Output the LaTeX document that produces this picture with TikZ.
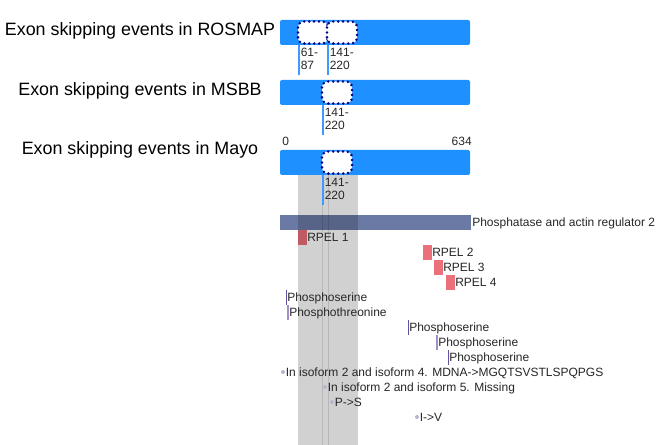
\documentclass[tikz,border=0pt]{standalone}
\usepackage{fontspec}
\setmainfont{Liberation Sans}
\definecolor{barblue}{HTML}{1E90FF}
\definecolor{lineblue}{HTML}{3D9BFF}
\definecolor{skipnavy}{HTML}{000080}
\definecolor{protgray}{HTML}{6B79A5}
\definecolor{rpelred}{HTML}{EB707A}
\definecolor{ptmdark}{HTML}{6650A0}
\definecolor{ptmlight}{HTML}{A38FC9}
\definecolor{vardot}{HTML}{B3B8CA}
\begin{document}
\begin{tikzpicture}[x=0.75pt,y=-0.75pt, every node/.style={font=\fontsize{9}{10}\selectfont, inner sep=0pt, text=black!85},
    lab/.style={anchor=base west},
    title/.style={anchor=base, font=\fontsize{13.4}{16}\selectfont, text=black},
    exonbar/.style={fill=barblue, rounded corners=1.5pt},
    skipbox/.style={draw=skipnavy, fill=white, line width=2.1pt, dash pattern=on 0pt off 3.7pt, line cap=round, rounded corners=4.5pt},
    eventline/.style={draw=lineblue, line width=0.8pt}]
    \useasboundingbox (0,0) rectangle (663,445);
    % study tracks
    \foreach \y/\study in {36/ROSMAP,96/MSBB,155/Mayo} \node[title] (t\study) at (140,\y) {Exon skipping events in \study};
    \foreach \y in {20,80,150} \fill[exonbar] (280,\y) rectangle (470,\y+25);
    \node[anchor=base west] (axis0) at (282,146) {0};
    \node[anchor=base east] (axis634) at (472,146) {634};
    % protein track
    \fill[protgray] (280,215) rectangle (471,230);
    \foreach \x/\y in {298/230,423/245,434/260,446/275} \fill[rpelred] (\x,\y) rectangle (\x+9,\y+15);
    % highlighted region
    \fill[black, opacity=0.18] (298,175) rectangle (358,445);
    \foreach \x in {322,328} \draw[black, opacity=0.12, line width=0.75pt] (\x,175) -- (\x,445);
    % skipped exons: left/right/top/label
    \foreach \xa/\xb/\y/\lab [count=\i] in {298/328/20/61-\\87, 327/357/20/141-\\220, 322/352/80/141-\\220, 322/352/150/141-\\220} {
        \draw[skipbox] (\xa,\y+1.5) rectangle (\xb,\y+23.5);
        \coordinate (ev\i) at (\xa+1,\y+25);
        \coordinate (evend\i) at (\xa+1,\y+55);
        \draw[eventline] (ev\i) -- (evend\i);
        \node[anchor=north west, align=left] (evlab\i) at (\xa+2.5,\y+27.5) {\lab};
    }
    \node[lab] (prot) at (472,226.5) {Phosphatase and actin regulator 2};
    \foreach \x/\y [count=\i] in {298/230,423/245,434/260,446/275} \node[lab] (rpel\i) at (\x+9,\y+11.5) {RPEL \i};
    % PTMs
    \foreach \x/\y/\col/\lw/\txt [count=\i] in {286/290/ptmdark/0.75/Phosphoserine, 288/305/ptmlight/1.5/Phosphothreonine, 408/320/ptmdark/0.75/Phosphoserine, 437/335/ptmlight/1.5/Phosphoserine, 448/350/ptmdark/0.75/Phosphoserine} {
        \draw[\col, line width=\lw pt] (\x,\y) -- (\x,\y+15);
        \node[lab] (ptm\i) at (\x+1,\y+11.5) {\txt};
    }
    % sequence variants
    \foreach \x/\y/\txt [count=\i] in {283/372/In isoform 2 and isoform 4. MDNA->MGQTSVSTLSPQPGS, 325/387/In isoform 2 and isoform 5. Missing, 332/402/P->S, 417/417/I->V} {
        \fill[vardot] (\x,\y) circle (1.5pt);
        \node[lab] (var\i) at (\x+2.5,\y+4) {\txt};
    }
\end{tikzpicture}
\end{document}
